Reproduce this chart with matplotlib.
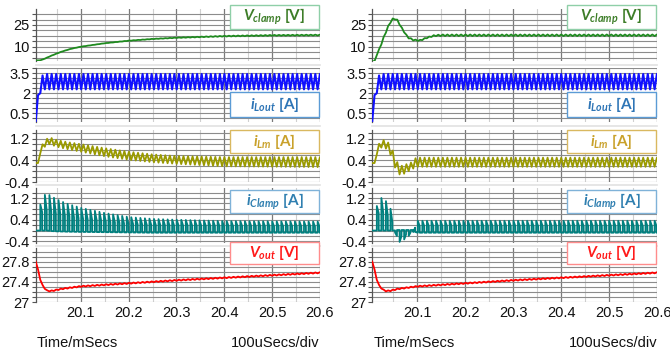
import numpy as np
import matplotlib
matplotlib.use("Agg")
import matplotlib.pyplot as plt
from matplotlib.patches import Rectangle
from matplotlib.ticker import MultipleLocator, FixedLocator
from matplotlib.lines import Line2D

plt.rcParams['font.family'] = ['Liberation Sans', 'DejaVu Sans']
plt.rcParams['mathtext.fontset'] = 'custom'
plt.rcParams['mathtext.it'] = 'Lato:bold:italic'
plt.rcParams['mathtext.rm'] = 'Lato:bold'
plt.rcParams['mathtext.bf'] = 'Lato:bold'

W, H = 670, 354

# converter switching period (ms) and visible time span
T_SW = 0.0095
T_START = 20.006
T_END = 20.6
x_ticks = [20.1, 20.2, 20.3, 20.4, 20.5, 20.6]

# ---------------- left column ----------------
# each trace: key times, ripple peak, ripple base
vclamp_l_t = [20.006, 20.016, 20.025, 20.04, 20.06, 20.08, 20.1, 20.15, 20.2, 20.25, 20.3, 20.4, 20.5, 20.6]
vclamp_l_pk = [0.5, 0.6, 1.8, 4.0, 6.6, 8.6, 10.0, 12.4, 14.2, 15.4, 16.3, 17.5, 18.1, 18.3]
vclamp_l_base = [0.5, 0.6, 1.7, 3.9, 6.5, 8.5, 9.9, 12.3, 14.0, 15.2, 16.0, 17.0, 17.5, 17.7]

ilout_l_t = [20.006, 20.008, 20.011, 20.014, 20.018, 20.022, 20.6]
ilout_l_pk = [-0.1, 1.5, 1.9, 2.5, 3.2, 3.45, 3.45]
ilout_l_base = [-0.1, 0.6, 1.5, 1.9, 2.2, 2.3, 2.3]

ilm_l_t = [20.006, 20.011, 20.016, 20.025, 20.035, 20.05, 20.07, 20.1, 20.15, 20.2, 20.25, 20.3, 20.4, 20.6]
ilm_l_pk = [0.3, 0.3, 0.85, 1.15, 1.25, 1.15, 1.08, 1.0, 0.85, 0.72, 0.62, 0.56, 0.52, 0.52]
ilm_l_base = [0.3, 0.3, 0.7, 0.9, 1.0, 0.9, 0.82, 0.72, 0.55, 0.42, 0.33, 0.27, 0.18, 0.15]

iclamp_l_t = [20.006, 20.012, 20.014, 20.02, 20.03, 20.04, 20.05, 20.07, 20.1, 20.15, 20.2, 20.25, 20.3, 20.4, 20.6]
iclamp_l_pk = [0.0, 0.0, 0.85, 1.27, 1.36, 1.25, 1.15, 1.0, 0.84, 0.65, 0.5, 0.43, 0.4, 0.35, 0.33]
iclamp_l_base = [0.0, 0.0, 0.0, 0.0, 0.0, -0.02, -0.03, -0.04, -0.05, -0.06, -0.07, -0.08, -0.08, -0.08, -0.08]

vout_l_t = [20.006, 20.01, 20.015, 20.022, 20.03, 20.04, 20.06, 20.1, 20.2, 20.3, 20.4, 20.5, 20.6]
vout_l_pk = [27.8, 27.68, 27.45, 27.3, 27.23, 27.23, 27.27, 27.32, 27.38, 27.44, 27.49, 27.54, 27.59]
vout_l_base = [27.8, 27.68, 27.45, 27.29, 27.21, 27.21, 27.25, 27.3, 27.36, 27.42, 27.47, 27.52, 27.57]

# ---------------- right column ----------------
vclamp_r_t = [20.006, 20.011, 20.013, 20.02, 20.025, 20.033, 20.042, 20.05, 20.058, 20.068, 20.08, 20.092, 20.105, 20.12, 20.135, 20.15, 20.6]
vclamp_r_pk = [0.0, 0.0, 3.0, 8.0, 12.5, 19.5, 26.5, 30.0, 28.8, 23.0, 16.8, 15.0, 14.6, 16.5, 18.0, 18.4, 18.4]
vclamp_r_base = [0.0, 0.0, 2.5, 7.0, 11.5, 18.5, 25.5, 29.3, 28.0, 22.2, 16.0, 14.2, 13.8, 15.8, 17.2, 17.3, 17.3]

ilout_r_t = [20.006, 20.008, 20.011, 20.014, 20.018, 20.022, 20.6]
ilout_r_pk = [-0.1, 1.5, 1.9, 2.5, 3.2, 3.45, 3.45]
ilout_r_base = [-0.1, 0.6, 1.5, 1.9, 2.2, 2.3, 2.3]

ilm_r_t = [20.006, 20.011, 20.016, 20.022, 20.03, 20.04, 20.047, 20.055, 20.062, 20.07, 20.08, 20.092, 20.097, 20.6]
ilm_r_pk = [0.3, 0.3, 0.8, 1.1, 1.15, 1.05, 0.85, 0.45, 0.2, 0.2, 0.28, 0.35, 0.5, 0.5]
ilm_r_base = [0.3, 0.3, 0.65, 0.85, 0.9, 0.75, 0.5, 0.05, -0.12, -0.12, -0.02, 0.1, 0.16, 0.16]

iclamp_r_t = [20.006, 20.012, 20.014, 20.02, 20.03, 20.04, 20.047, 20.052, 20.058, 20.065, 20.075, 20.085, 20.092, 20.097, 20.6]
iclamp_r_pk = [0.0, 0.0, 0.8, 1.2, 1.2, 0.95, 0.7, 0.05, -0.42, -0.42, -0.3, -0.15, -0.05, 0.36, 0.36]
iclamp_r_base = [0.0, 0.0, 0.0, 0.0, 0.0, 0.0, 0.0, 0.0, 0.02, 0.02, 0.02, 0.02, 0.02, -0.08, -0.08]

vout_r_t = [20.006, 20.01, 20.015, 20.022, 20.032, 20.042, 20.06, 20.1, 20.2, 20.3, 20.4, 20.5, 20.6]
vout_r_pk = [27.8, 27.68, 27.45, 27.3, 27.23, 27.23, 27.27, 27.32, 27.38, 27.44, 27.49, 27.54, 27.59]
vout_r_base = [27.8, 27.68, 27.45, 27.29, 27.21, 27.21, 27.25, 27.3, 27.36, 27.42, 27.47, 27.52, 27.57]

labels = [r'$V_{clamp}$ [V]', r'$i_{Lout}$ [A]', r'$i_{Lm}$ [A]', r'$i_{Clamp}$ [A]', r'$V_{out}$ [V]']
y_ticks = [[10, 25], [0.5, 2, 3.5], [-0.4, 0.4, 1.2], [-0.4, 0.4, 1.2], [27, 27.4, 27.8]]
y_labels = [['10', '25'], ['0.5', '2', '3.5'], ['-0.4', '0.4', '1.2'], ['-0.4', '0.4', '1.2'], ['27', '27.4', '27.8']]


def switching(t_keys, pk_keys, base_keys, shape):
    # switching waveform between the read-off ripple peak and base values
    starts = np.arange(T_START, T_END + T_SW, T_SW)
    if shape == 'pulse':
        t = np.column_stack([starts, starts + 0.01 * T_SW, starts + 0.42 * T_SW,
                             starts + 0.43 * T_SW]).ravel()
        pk = np.interp(t, t_keys, pk_keys)
        base = np.interp(t, t_keys, base_keys)
        frac = np.tile([0.0, 1.0, 0.55, 0.0], len(starts))
    else:
        t = np.column_stack([starts, starts + 0.5 * T_SW]).ravel()
        pk = np.interp(t, t_keys, pk_keys)
        base = np.interp(t, t_keys, base_keys)
        frac = np.tile([0.0, 1.0], len(starts))
    return t, base + frac * (pk - base)


columns = [
    [(vclamp_l_t, vclamp_l_pk, vclamp_l_base), (ilout_l_t, ilout_l_pk, ilout_l_base),
     (ilm_l_t, ilm_l_pk, ilm_l_base), (iclamp_l_t, iclamp_l_pk, iclamp_l_base),
     (vout_l_t, vout_l_pk, vout_l_base)],
    [(vclamp_r_t, vclamp_r_pk, vclamp_r_base), (ilout_r_t, ilout_r_pk, ilout_r_base),
     (ilm_r_t, ilm_r_pk, ilm_r_base), (iclamp_r_t, iclamp_r_pk, iclamp_r_base),
     (vout_r_t, vout_r_pk, vout_r_base)],
]

# styling / layout (pixels)
line_colors = ['#1f8a1f', '#1010ff', '#9a9a00', '#00807f', '#ff0000']
text_colors = ['#3d7d28', '#2e75b6', '#c9a12a', '#2f7fb0', '#ff1a1a']
box_edges = ['#8fcfa8', '#5b9bd5', '#d9b860', '#7fb2d8', '#ff8c8c']
shapes = ['tri', 'tri', 'tri', 'pulse', 'tri']
widths = [1.3, 1.5, 1.3, 1.3, 1.3]
panel_y = [(9, 61), (68, 122), (130, 182), (188, 243), (248, 302)]
ylims = [(0.1, 36.0), (-0.15, 3.9), (-0.4, 1.52), (-0.46, 1.57), (27.0, 28.07)]
minor_step = [3.75, 0.375, 0.2, 0.2, 0.1]
box_y = [(5, 29), (92, 117), (130, 153), (190, 213), (242, 264)]
col_x = [(35.5, 320), (372, 657)]

fig = plt.figure(figsize=(W / 100, H / 100), dpi=100)

for c, (x0, x1) in enumerate(col_x):
    for p in range(5):
        top, bot = panel_y[p]
        ax = fig.add_axes([x0 / W, 1 - bot / H, (x1 - x0) / W, (bot - top) / H])
        tk, pk, bk = columns[c][p]
        t, v = switching(tk, pk, bk, shapes[p])
        ax.plot(t, v, color=line_colors[p], lw=widths[p], zorder=3)
        ax.set_xlim(T_START - 0.0005, T_END)
        ax.set_ylim(*ylims[p])

        ax.xaxis.set_major_locator(FixedLocator(x_ticks))
        ax.xaxis.set_minor_locator(MultipleLocator(0.05))
        ax.yaxis.set_major_locator(FixedLocator(y_ticks[p]))
        ax.set_yticklabels(y_labels[p])
        ax.yaxis.set_minor_locator(MultipleLocator(minor_step[p], offset=y_ticks[p][0] % minor_step[p]))
        ax.grid(True, which='major', axis='x', color='#7a7a7a', lw=0.9)
        ax.grid(True, which='minor', axis='x', color='#d0d0d0', lw=0.8)
        ax.grid(True, which='both', axis='y', color='#8c8c8c', lw=0.8)
        ax.set_axisbelow(True)
        ax.tick_params(axis='y', which='both', direction='out', length=3, width=0.8,
                       color='#555555', labelsize=10.5, pad=1, labelcolor='#111111')
        ax.tick_params(axis='x', which='both', length=0, labelsize=10.5, pad=3, labelcolor='#111111')
        if p < 4:
            ax.set_xticklabels([])
        for side in ['top', 'right', 'bottom']:
            ax.spines[side].set_visible(False)
        ax.spines['left'].set_color('#555555')
        ax.spines['left'].set_linewidth(0.9)

        # legend box
        by0, by1 = box_y[p]
        bx1 = x1 - 1
        bx0 = bx1 - 89
        fig.add_artist(Rectangle((bx0 / W, 1 - by1 / H), 89 / W, (by1 - by0) / H,
                                 transform=fig.transFigure, facecolor='white',
                                 edgecolor=box_edges[p], lw=1.0, zorder=5))
        fig.text((bx0 + bx1) / 2 / W, 1 - (by0 + by1) / 2 / H, labels[p],
                 color=text_colors[p], fontsize=11, fontweight='bold', family='Lato',
                 ha='center', va='center', zorder=6)

        # light separator under each panel
        if p < 4:
            ysep = 1 - (bot + (panel_y[p + 1][0] - bot) / 2) / H
            fig.add_artist(Line2D([x0 / W, x1 / W], [ysep, ysep], transform=fig.transFigure,
                                  color='#e2e2e2', lw=1.2, zorder=0))

    fig.text((x0 + 1.5) / W, 1 - 343 / H, 'Time/mSecs', fontsize=10.5, ha='left', va='center', color='#111111')
    fig.text(x1 / W, 1 - 343 / H, '100uSecs/div', fontsize=10.5, ha='right', va='center', color='#111111')

fig.savefig('out.png', dpi=100)
